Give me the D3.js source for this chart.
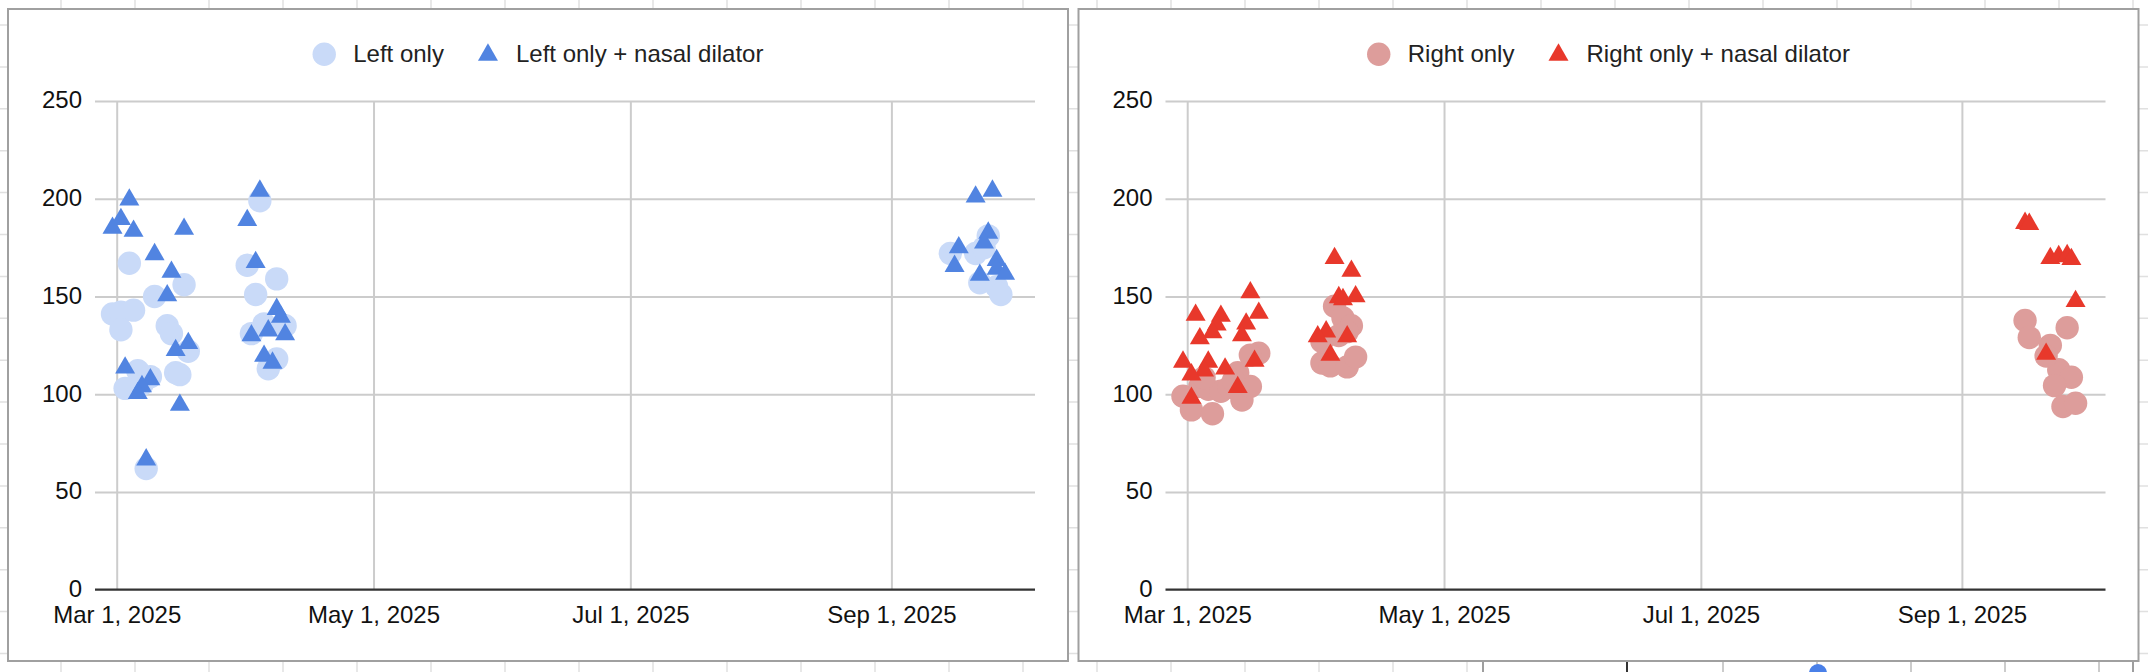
<!DOCTYPE html>
<html>
<head>
<meta charset="utf-8">
<script src="https://cdn.jsdelivr.net/npm/d3@7"></script>
<style>
html,body{margin:0;padding:0;background:#fff;overflow:hidden;}
svg{display:block;font-family:"Liberation Sans",Arial,Helvetica,sans-serif;}
</style>
</head>
<body>
<svg id="chart" width="2148" height="672"></svg>
<script>
// ---------------- DATA ----------------
const xTickDates = ["2025-03-01", "2025-05-01", "2025-07-01", "2025-09-01"];
const yTicks = [0, 50, 100, 150, 200, 250];

const leftSeriesNames = ["Left only", "Left only + nasal dilator"];
const rightSeriesNames = ["Right only", "Right only + nasal dilator"];

const leftOnly = [
  ["2025-03-04",167],["2025-03-17",156],["2025-03-10",150],["2025-02-28",141],
  ["2025-03-02",142],["2025-03-05",143],["2025-03-02",133],["2025-03-13",135],
  ["2025-03-14",131],["2025-03-18",122],["2025-03-06",112],["2025-03-09",109],
  ["2025-03-03",103],["2025-03-15",111],["2025-03-16",110],["2025-03-08",62],
  ["2025-03-07",105],
  ["2025-04-04",199],["2025-04-01",166],["2025-04-08",159],["2025-04-03",151],
  ["2025-04-05",136],["2025-04-10",135],["2025-04-02",131],["2025-04-08",118],
  ["2025-04-06",113],
  ["2025-09-15",172],["2025-09-21",172],["2025-09-23",175],["2025-09-24",181],
  ["2025-09-22",157],["2025-09-26",155],["2025-09-27",151]
];

const leftDilator = [
  ["2025-03-04",201],["2025-03-02",191],["2025-02-28",186.5],["2025-03-05",185],
  ["2025-03-17",186],["2025-03-10",173],["2025-03-14",164],["2025-03-13",152],
  ["2025-03-15",124],["2025-03-18",127.5],["2025-03-03",115],["2025-03-09",109],
  ["2025-03-07",105.5],["2025-03-06",102],["2025-03-16",96],["2025-03-08",68],
  ["2025-04-04",205.5],["2025-04-01",190.5],["2025-04-03",169],["2025-04-08",145],
  ["2025-04-09",141],["2025-04-02",131.5],["2025-04-06",134],["2025-04-10",132],
  ["2025-04-05",121],["2025-04-07",117.5],
  ["2025-09-21",202.5],["2025-09-25",205.5],["2025-09-24",184],["2025-09-23",179],
  ["2025-09-17",176.5],["2025-09-16",167],["2025-09-26",170],["2025-09-26",165.5],
  ["2025-09-28",163],["2025-09-22",162.5]
];

const rightOnly = [
  ["2025-03-18",121],["2025-03-16",120],["2025-02-28",99],["2025-03-02",92],
  ["2025-03-07",90],["2025-03-14",97],["2025-03-16",104],["2025-03-13",111],
  ["2025-03-04",104],["2025-03-06",102.5],["2025-03-09",101.5],["2025-03-11",103.5],
  ["2025-03-12",107],["2025-03-05",108.5],
  ["2025-04-05",145],["2025-04-07",139],["2025-04-09",135],["2025-04-02",116],
  ["2025-04-04",114.5],["2025-04-08",114],["2025-04-10",119],["2025-04-02",127],
  ["2025-04-06",130],["2025-04-08",132],
  ["2025-09-16",137.7],["2025-09-17",129],["2025-09-26",134],["2025-09-22",125],
  ["2025-09-24",112.5],["2025-09-27",108.7],["2025-09-23",104.4],["2025-09-25",93.7],
  ["2025-09-28",95.4],["2025-09-21",119.5]
];

const rightDilator = [
  ["2025-03-03",142],["2025-03-09",141.5],["2025-03-16",153.5],["2025-03-18",143],
  ["2025-03-15",137.5],["2025-03-08",137],["2025-03-07",133],["2025-03-04",130],
  ["2025-03-14",131.5],["2025-03-17",118.5],["2025-02-28",118],["2025-03-06",118],
  ["2025-03-10",114.5],["2025-03-05",113.5],["2025-03-02",111.5],["2025-03-13",105],
  ["2025-03-02",99.5],
  ["2025-04-05",171],["2025-04-09",164.5],["2025-04-06",151],["2025-04-07",150],
  ["2025-04-10",151.5],["2025-04-03",133.5],["2025-04-01",131],["2025-04-08",131],
  ["2025-04-04",121.5],
  ["2025-09-16",189],["2025-09-17",188.5],["2025-09-22",171],["2025-09-24",172],
  ["2025-09-26",172.5],["2025-09-27",170.5],["2025-09-28",149],["2025-09-21",122]
];

// ---------------- DRAWING ----------------
const W = 2148, H = 672;
const parse = d3.timeParse("%Y-%m-%d");
const fmt = d3.timeFormat("%b %-d, %Y");
const svg = d3.select("#chart");

// spreadsheet background grid
const bg = svg.append("g");
bg.append("rect").attr("width", W).attr("height", H).attr("fill", "#fff");
d3.range(0, 30).map(k => 61 + 74 * k).forEach(xx => {
  bg.append("line").attr("x1", xx).attr("x2", xx).attr("y1", 0).attr("y2", H)
    .attr("stroke", "#e0e0e0").attr("stroke-width", 1.5);
});
d3.range(0, 17).map(k => 25 + 41.9 * k).forEach(yy => {
  bg.append("line").attr("x1", 0).attr("x2", W).attr("y1", yy).attr("y2", yy)
    .attr("stroke", "#e0e0e0").attr("stroke-width", 1.5);
});

// another embedded chart peeking out below the right panel
const other = svg.append("g");
other.append("rect").attr("x", 1483).attr("y", 360).attr("width", 650).attr("height", 400)
  .attr("fill", "#fff").attr("stroke", "#9e9e9e").attr("stroke-width", 2);
d3.range(0, 5).map(k => 1723 + 94 * k).forEach(xx => {
  other.append("line").attr("x1", xx).attr("x2", xx).attr("y1", 600).attr("y2", H)
    .attr("stroke", "#cccccc").attr("stroke-width", 2);
});
other.append("line").attr("x1", 1627).attr("x2", 1627).attr("y1", 600).attr("y2", H)
  .attr("stroke", "#333").attr("stroke-width", 2);
other.append("text").attr("transform", "translate(1534,700) rotate(-90)")
  .attr("font-size", 22).attr("fill", "#111").text("30");
other.append("circle").attr("cx", 1818).attr("cy", 673).attr("r", 9).attr("fill", "#4a80e8");

const triPath = "M0,-8.66L10,8.66L-10,8.66Z";

function drawPanel(x0, names, data1, data2, c1, c2) {
  const pY = 9, pW = 1060, pH = 652;
  const g = svg.append("g");
  g.append("rect").attr("x", x0).attr("y", pY).attr("width", pW).attr("height", pH)
    .attr("fill", "#fff").attr("stroke", "#a0a0a0").attr("stroke-width", 2);

  const plotL = x0 + 87, plotR = x0 + 1027;
  const x = d3.scaleTime()
    .domain([parse("2025-03-01"), parse("2025-09-01")])
    .range([x0 + 108.7, x0 + 883.4]);
  const y = d3.scaleLinear().domain([0, 250]).range([589.7, 101]);

  // horizontal gridlines
  g.append("g").attr("transform", `translate(${plotL},0)`)
    .call(d3.axisLeft(y).tickValues(yTicks.filter(v => v > 0)).tickSize(-(plotR - plotL)).tickFormat(""))
    .call(a => a.select(".domain").remove())
    .call(a => a.selectAll("line").attr("stroke", "#cccccc").attr("stroke-width", 2));

  // vertical gridlines
  g.append("g").attr("transform", `translate(0,${y(0)})`)
    .call(d3.axisBottom(x).tickValues(xTickDates.map(parse)).tickSize(-(y(0) - y(250))).tickFormat(""))
    .call(a => a.select(".domain").remove())
    .call(a => a.selectAll("line").attr("stroke", "#cccccc").attr("stroke-width", 2));

  // baseline
  g.append("line").attr("x1", plotL).attr("x2", plotR).attr("y1", y(0)).attr("y2", y(0))
    .attr("stroke", "#333").attr("stroke-width", 2.2);

  // y tick labels
  g.append("g").attr("transform", `translate(${plotL},0)`)
    .call(d3.axisLeft(y).tickValues(yTicks).tickSize(0).tickPadding(13))
    .call(a => a.select(".domain").remove())
    .call(a => a.selectAll("text").attr("font-size", 24).attr("fill", "#111")
      .attr("font-family", "Liberation Sans, Arial, sans-serif").attr("dy", "0.29em"));

  // x tick labels
  g.append("g").attr("transform", `translate(0,${y(0)})`)
    .call(d3.axisBottom(x).tickValues(xTickDates.map(parse)).tickFormat(fmt).tickSize(0).tickPadding(16))
    .call(a => a.select(".domain").remove())
    .call(a => a.selectAll("text").attr("font-size", 24).attr("fill", "#111")
      .attr("font-family", "Liberation Sans, Arial, sans-serif"));

  // points
  g.append("g").selectAll("circle").data(data1).join("circle")
    .attr("cx", d => x(parse(d[0]))).attr("cy", d => y(d[1]))
    .attr("r", 11.7).attr("fill", c1);
  g.append("g").selectAll("path").data(data2).join("path")
    .attr("d", triPath)
    .attr("transform", d => `translate(${x(parse(d[0]))},${y(d[1])})`)
    .attr("fill", c2);

  // legend
  const lg = g.append("g");
  let cur = 0;
  lg.append("circle").attr("cx", cur + 11.7).attr("cy", 54.3).attr("r", 11.7).attr("fill", c1);
  const t1 = lg.append("text").attr("x", cur + 11.7 + 29).attr("y", 62.3)
    .attr("font-size", 24).attr("fill", "#222").text(names[0]);
  cur = cur + 11.7 + 29 + t1.node().getComputedTextLength() + 34;
  lg.append("path").attr("d", triPath).attr("transform", `translate(${cur + 10},52)`).attr("fill", c2);
  const t2 = lg.append("text").attr("x", cur + 10 + 28).attr("y", 62.3)
    .attr("font-size", 24).attr("fill", "#222").text(names[1]);
  cur = cur + 10 + 28 + t2.node().getComputedTextLength();
  lg.attr("transform", `translate(${x0 + pW / 2 - cur / 2},0)`);
}

drawPanel(8, leftSeriesNames, leftOnly, leftDilator, "#c9daf8", "#5184e1");
drawPanel(1078.5, rightSeriesNames, rightOnly, rightDilator, "#dd9d9b", "#e8382b");
</script>
</body>
</html>
